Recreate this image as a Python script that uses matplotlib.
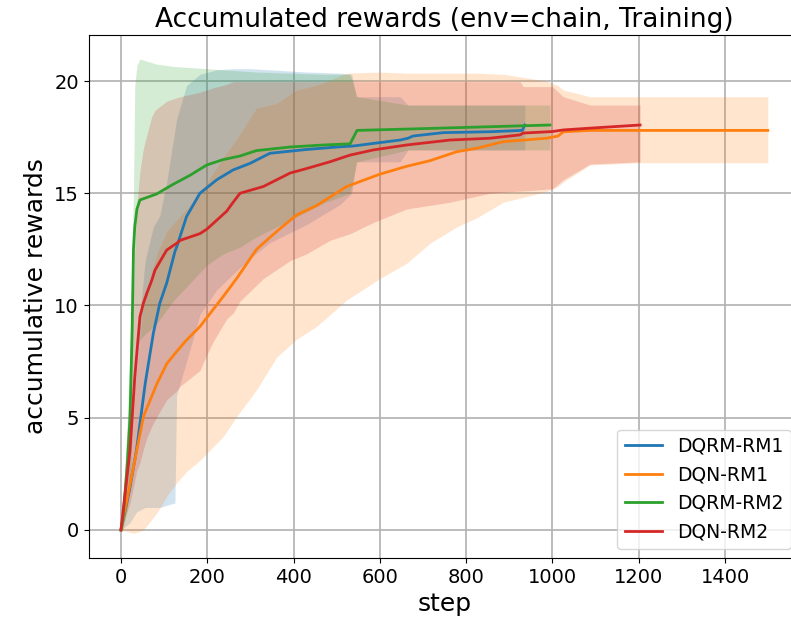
import matplotlib
matplotlib.use("Agg")
import matplotlib.pyplot as plt

# DQRM-RM1 (blue)
rm1_dqrm_step = [0, 20, 36, 56, 75, 90, 106, 125, 129, 152, 183, 222, 260, 299, 345, 430, 508, 535, 545, 585, 647, 665, 677, 747, 855, 930, 936]
rm1_dqrm_mean = [0, 1.8, 3.56, 6.5, 8.76, 10.1, 11.0, 12.4, 12.6, 13.96, 15.0, 15.6, 16.04, 16.33, 16.78, 16.95, 17.07, 17.1, 17.12, 17.22, 17.37, 17.45, 17.55, 17.7, 17.74, 17.8, 18.04]
rm1_dqrm_low = [0, 0.3, 0.8, 1.0, 1.0, 1.0, 1.1, 1.2, 6.0, 7.5, 9.6, 10.7, 11.4, 12.1, 12.8, 13.6, 14.5, 15.0, 16.4, 16.4, 16.4, 16.93, 16.93, 16.93, 16.93, 16.93, 16.93]
rm1_dqrm_high = [0, 4.0, 8.0, 12.0, 13.5, 14.0, 15.5, 17.8, 18.3, 19.8, 20.3, 20.5, 20.55, 20.55, 20.5, 20.4, 20.35, 20.3, 19.3, 19.3, 19.3, 18.93, 18.93, 18.93, 18.93, 18.93, 18.93]

# DQN-RM1 (orange)
rm1_dqn_step = [0, 29, 52, 83, 106, 129, 152, 183, 237, 268, 314, 361, 407, 453, 523, 600, 662, 716, 778, 824, 886, 986, 1013, 1025, 1087, 1200, 1499]
rm1_dqn_mean = [0, 2.8, 5.05, 6.5, 7.4, 7.95, 8.46, 9.06, 10.4, 11.2, 12.5, 13.3, 14.03, 14.45, 15.3, 15.85, 16.2, 16.45, 16.85, 17.0, 17.3, 17.45, 17.55, 17.74, 17.8, 17.8, 17.8]
rm1_dqn_low = [0, -0.15, 0.0, 0.75, 1.5, 2.1, 2.6, 3.1, 4.16, 5.05, 6.24, 7.7, 8.5, 9.06, 10.24, 11.2, 11.88, 12.77, 13.5, 13.9, 14.6, 15.07, 15.3, 15.5, 16.26, 16.36, 16.36]
rm1_dqn_high = [0, 5.7, 10.1, 12.3, 13.3, 13.8, 14.3, 15.0, 16.6, 17.4, 18.8, 19.0, 19.6, 19.8, 20.35, 20.4, 20.35, 20.35, 20.35, 20.35, 20.3, 20.0, 19.8, 19.6, 19.3, 19.3, 19.3]

# DQRM-RM2 (green)
rm2_dqrm_step = [0, 5, 15, 21, 26, 29, 32, 37, 44, 83, 121, 160, 199, 237, 276, 314, 392, 469, 531, 547, 665, 994]
rm2_dqrm_mean = [0, 0.6, 3.0, 5.0, 9.0, 12.5, 13.5, 14.3, 14.7, 14.97, 15.4, 15.8, 16.26, 16.5, 16.66, 16.9, 17.06, 17.15, 17.2, 17.8, 17.86, 18.04]
rm2_dqrm_low = [0, 0.0, 1.0, 2.0, 4.5, 6.5, 7.2, 8.0, 8.5, 9.2, 10.2, 11.0, 11.8, 12.3, 12.6, 13.06, 13.8, 14.56, 15.0, 16.4, 16.93, 16.93]
rm2_dqrm_high = [0, 1.2, 5.0, 8.0, 13.0, 15.0, 19.8, 20.7, 20.98, 20.75, 20.65, 20.6, 20.55, 20.5, 20.45, 20.4, 20.35, 20.3, 20.3, 19.3, 18.93, 18.93]

# DQN-RM2 (red)
rm2_dqn_step = [0, 21, 32, 36, 44, 52, 60, 71, 79, 106, 129, 137, 183, 199, 214, 245, 260, 276, 330, 392, 430, 484, 531, 585, 662, 762, 855, 925, 932, 1000, 1025, 1087, 1203]
rm2_dqn_mean = [0, 3.56, 6.8, 7.7, 9.5, 10.1, 10.55, 11.1, 11.58, 12.47, 12.77, 12.9, 13.2, 13.4, 13.66, 14.2, 14.6, 15.0, 15.3, 15.9, 16.1, 16.4, 16.7, 16.93, 17.15, 17.37, 17.45, 17.6, 17.68, 17.75, 17.82, 17.9, 18.04]
rm2_dqn_low = [0, 1.2, 2.2, 2.6, 3.0, 3.6, 4.1, 4.6, 4.9, 5.8, 6.2, 6.4, 7.1, 7.8, 8.4, 9.4, 9.66, 10.2, 11.2, 12.0, 12.3, 12.9, 13.2, 13.7, 14.3, 14.6, 15.0, 15.1, 15.1, 15.2, 15.6, 16.3, 16.4]
rm2_dqn_high = [0, 6.5, 12.5, 14.3, 16.0, 17.0, 17.6, 18.4, 18.7, 19.1, 19.25, 19.3, 19.5, 19.6, 19.7, 19.85, 19.97, 19.97, 19.97, 19.97, 19.97, 19.97, 19.97, 19.97, 19.97, 19.97, 19.97, 19.97, 19.75, 19.75, 19.3, 18.93, 18.93]

series = [
    ("DQRM-RM1", "tab:blue", rm1_dqrm_step, rm1_dqrm_mean, rm1_dqrm_low, rm1_dqrm_high),
    ("DQN-RM1", "tab:orange", rm1_dqn_step, rm1_dqn_mean, rm1_dqn_low, rm1_dqn_high),
    ("DQRM-RM2", "tab:green", rm2_dqrm_step, rm2_dqrm_mean, rm2_dqrm_low, rm2_dqrm_high),
    ("DQN-RM2", "tab:red", rm2_dqn_step, rm2_dqn_mean, rm2_dqn_low, rm2_dqn_high),
]

fig = plt.figure(figsize=(7.91, 6.3), dpi=100)
# axes run a little past the right edge, like the cropped original
ax = fig.add_axes([88.6 / 791, 72 / 630, 712 / 791, 523 / 630])

for label, color, x, m, lo, hi in series:
    ax.fill_between(x, lo, hi, color=color, alpha=0.2, linewidth=0)

for label, color, x, m, lo, hi in series:
    ax.plot(x, m, color=color, linewidth=2.0, label=label)

ax.set_xlim(-75, 1575)
ax.set_ylim(-1.25, 22.05)
ax.set_xticks(range(0, 1401, 200))
ax.set_yticks([0, 5, 10, 15, 20])
ax.tick_params(labelsize=14)
ax.set_title("Accumulated rewards (env=chain, Training)", fontsize=19)
ax.set_xlabel("step", fontsize=18)
ax.set_ylabel("accumulative rewards", fontsize=18)
ax.grid(True, linewidth=1.2)
ax.set_axisbelow(True)
ax.legend(loc="lower right", fontsize=13.5)

fig.savefig("out.png", dpi=100)
